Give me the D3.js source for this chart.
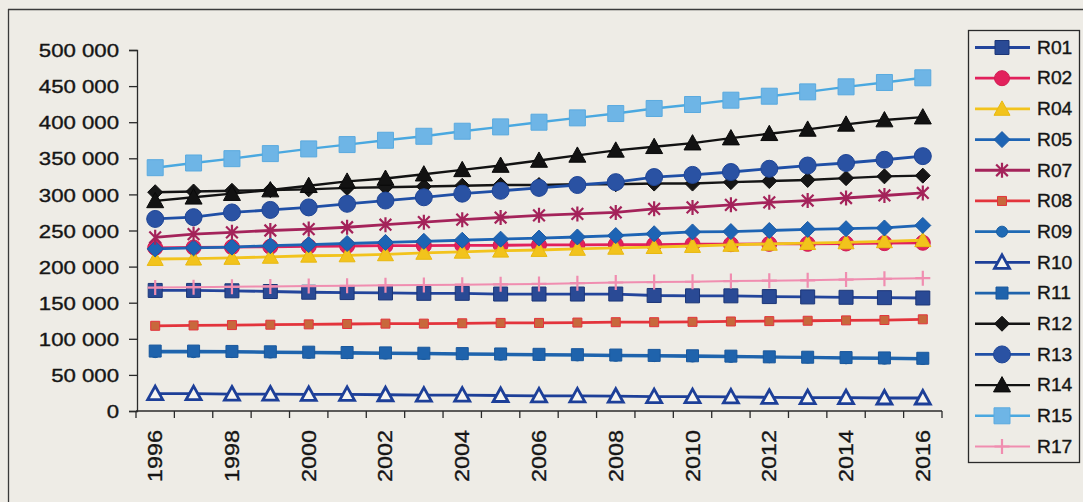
<!DOCTYPE html>
<html>
<head>
<meta charset="utf-8">
<script src="https://cdn.jsdelivr.net/npm/d3@7"></script>
<style>
  html, body { margin: 0; padding: 0; background: #eeece6; }
  svg { display: block; }
  text { font-family: "Liberation Sans", Arial, sans-serif; fill: #151515; stroke: #151515; stroke-width: 0.35px; }
</style>
</head>
<body>
<svg id="chart" width="1083" height="502"></svg>
<script>
// ---- data ---------------------------------------------------------------
const years = ["1996","1997","1998","1999","2000","2001","2002","2003","2004","2005","2006",
               "2007","2008","2009","2010","2011","2012","2013","2014","2015","2016"];
const yearLabels = ["1996","1998","2000","2002","2004","2006","2008","2010","2012","2014","2016"];
const yTicks = [0, 50000, 100000, 150000, 200000, 250000, 300000, 350000, 400000, 450000, 500000];
const seriesNames = ["R01","R02","R04","R05","R07","R08","R09","R10","R11","R12","R13","R14","R15","R17"];

const r01 = [167000,167000,166500,165500,164500,164000,163500,163000,163000,162000,162000,162000,162000,160000,159500,159500,158500,158000,157500,157000,156500];
const r02 = [226000,226500,227000,227500,228000,228500,229000,229000,229500,229500,230000,230000,230500,230500,231000,231000,231500,231500,232000,232500,233000];
const r04 = [210500,211000,212000,213500,215000,215500,217000,219000,220500,222000,223000,224500,226000,227000,228500,230000,231500,232500,233500,235000,236500];
const r05 = [224500,226000,227000,229000,230500,232000,233500,235000,236500,238000,239500,241000,243000,245500,248000,248500,250000,251500,252500,253500,257000];
const r07 = [240500,245000,247500,250000,252000,254500,258000,261500,265000,268000,271000,273000,275000,280000,282000,285500,289000,291500,295000,298500,302000];
const r08 = [118000,118500,119000,119500,120000,120500,121000,121000,121500,122000,122000,122500,123000,123000,123500,124000,124500,125000,125500,126000,127000];
const r09 = [81500,81500,81500,81000,80500,80000,79500,79000,78500,78000,77500,77000,76500,76000,75500,75000,74500,74000,73000,72500,72000];
const r10 = [24000,24000,23500,23500,23000,23000,22500,22000,22000,21500,21000,21000,20500,20000,20000,19500,19000,18500,18500,18000,18000];
const r11 = [83000,83000,82500,82000,81500,81000,80500,80000,79500,79000,78500,78000,77500,77000,76500,76000,75000,74500,74000,73500,73000];
const r12 = [303000,304000,305000,306000,307000,309000,310000,311000,312000,313000,313000,314000,314000,315000,315000,317000,318500,320000,322500,325000,326000];
const r13 = [266000,268500,275000,278500,282000,287000,291500,296000,301000,305000,309000,313000,317000,324000,327000,331000,335500,340000,343500,348000,353000];
const r14 = [291000,296000,301000,306000,312000,318000,322000,328000,334000,340000,347000,354000,361000,366000,371000,378000,384000,390000,397000,403000,407000];
const r15 = [337000,343500,349500,356500,363000,369000,375000,380500,387500,393500,400000,406000,412000,419000,424500,430500,436000,442000,449000,455000,461500];
const r17 = [171000,171500,172000,172500,173000,173500,174000,174500,175000,175500,176000,177000,178000,178500,179000,180000,180500,181000,182000,183000,184000];

const seriesValues = [r01, r02, r04, r05, r07, r08, r09, r10, r11, r12, r13, r14, r15, r17];

// ---- appearance of each series -----------------------------------------
const styles = {
  R01: { line: "#23459b", width: 2.8, marker: "square",   size: 14, fill: "#2a4a95", stroke: "#1c3678" },
  R02: { line: "#e2215c", width: 2.8, marker: "circle",   size: 15, fill: "#e2215c", stroke: "#d01c52" },
  R04: { line: "#f2c31c", width: 2.8, marker: "triangle", size: 16, fill: "#f2c31c", stroke: "#e8b810" },
  R05: { line: "#1e64b4", width: 2.8, marker: "diamond",  size: 16, fill: "#1e64b4", stroke: "#1a5aa4" },
  R07: { line: "#a4235a", width: 2.8, marker: "asterisk", size: 15, fill: "none",    stroke: "#a4235a" },
  R08: { line: "#e3343c", width: 2.8, marker: "square",   size: 9,  fill: "#c8683c", stroke: "#e3343c" },
  R09: { line: "#1f6ab4", width: 2.8, marker: "circle",   size: 11, fill: "#1f6ab4", stroke: "#1a5ea2" },
  R10: { line: "#1d3f98", width: 2.8, marker: "triangle", size: 15, fill: "#f6f5f1", stroke: "#1d3f98" },
  R11: { line: "#1f63ac", width: 2.8, marker: "square",   size: 12, fill: "#1f63ac", stroke: "#1a589c" },
  R12: { line: "#151515", width: 2.4, marker: "diamond",  size: 15, fill: "#161616", stroke: "#0e0e0e" },
  R13: { line: "#1f4fa6", width: 2.8, marker: "circle",   size: 17, fill: "#2a52a3", stroke: "#1f4596" },
  R14: { line: "#121212", width: 2.4, marker: "triangle", size: 17, fill: "#121212", stroke: "#0a0a0a" },
  R15: { line: "#4aa8e0", width: 2.4, marker: "square",   size: 16, fill: "#6eb5e6", stroke: "#5aaadf" },
  R17: { line: "#f08db0", width: 2,   marker: "plus",     size: 15, fill: "none",    stroke: "#f08db0" }
};

// marker outlines centred on (0,0)
function markerPath(kind, s) {
  const h = s / 2;
  switch (kind) {
    case "square":   return d3.symbol(d3.symbolSquare, s * s)();
    case "circle":   return d3.symbol(d3.symbolCircle, Math.PI * h * h)();
    case "triangle": return `M0,${-h}L${h},${h * 0.8}L${-h},${h * 0.8}Z`;
    case "diamond":  return `M0,${-h}L${h},0L0,${h}L${-h},0Z`;
    case "asterisk": {
      const d = h * 0.78;
      return `M0,${-h}V${h}M${-d},${-d}L${d},${d}M${-d},${d}L${d},${-d}`;
    }
    case "plus":     return `M0,${-h}V${h}M${-h},0H${h}`;
  }
}

function drawMarker(sel, st) {
  const open = st.marker === "asterisk" || st.marker === "plus";
  sel.append("path")
    .attr("d", markerPath(st.marker, st.size))
    .attr("fill", open ? "none" : st.fill)
    .attr("stroke", st.stroke)
    .attr("stroke-width", open ? 2.2 : (st.fill === "#f6f5f1" ? 2.8 : 1))
    .attr("stroke-linejoin", "miter");
}

// ---- layout --------------------------------------------------------------
const svg = d3.select("#chart");

// page frame
svg.append("line").attr("x1", 8).attr("x2", 1083).attr("y1", 9.5).attr("y2", 9.5)
  .attr("stroke", "#3a3a3a").attr("stroke-width", 1.3);
svg.append("line").attr("x1", 8.5).attr("x2", 8.5).attr("y1", 9).attr("y2", 502)
  .attr("stroke", "#3a3a3a").attr("stroke-width", 1.3);

const x = d3.scaleBand().domain(years).range([136, 942]).padding(0);
const cx = d => x(d) + x.bandwidth() / 2;
const y = d3.scaleLinear().domain([0, 500000]).range([411, 50]);

// y axis
const fmt = v => d3.format(",")(v).replace(/,/g, " ");
const yAxis = svg.append("g")
  .attr("transform", "translate(137,0)")
  .call(d3.axisLeft(y).tickValues(yTicks).tickSize(8).tickFormat(fmt));
yAxis.select(".domain").attr("stroke", "#2a2a2a").attr("stroke-width", 1.3);
yAxis.selectAll(".tick line").attr("stroke", "#2a2a2a").attr("stroke-width", 1.3);
yAxis.selectAll(".tick text")
  .attr("x", -18 / 1.2)
  .attr("dy", "0.36em")
  .attr("transform", "scale(1.2,1)")
  .style("font-size", "18.5px")
  .style("font-family", "'Liberation Sans', Arial, sans-serif")
  .attr("fill", "#151515");

// x axis: line, ticks between categories, rotated year labels
const xAxis = svg.append("g");
xAxis.append("line")
  .attr("x1", x.range()[0]).attr("x2", x.range()[1])
  .attr("y1", y(0)).attr("y2", y(0))
  .attr("stroke", "#2a2a2a").attr("stroke-width", 1.3);
const bounds = years.map(d => x(d)).concat([x.range()[1]]);
xAxis.selectAll("line.tick").data(bounds).join("line")
  .attr("class", "tick")
  .attr("x1", d => d).attr("x2", d => d)
  .attr("y1", y(0)).attr("y2", y(0) + 7)
  .attr("stroke", "#2a2a2a").attr("stroke-width", 1.3);
xAxis.selectAll("text").data(yearLabels).join("text")
  .attr("transform", d => `translate(${cx(d) + 7},430) rotate(-90) scale(1.17,1)`)
  .attr("text-anchor", "end")
  .style("font-size", "20px")
  .text(d => d);

// series
const line = d3.line().x((v, i) => cx(years[i])).y(v => y(v));
const plot = svg.append("g");
seriesNames.forEach((name, k) => {
  const st = styles[name];
  const vals = seriesValues[k];
  const g = plot.append("g");
  g.append("path")
    .attr("d", line(vals))
    .attr("fill", "none")
    .attr("stroke", st.line)
    .attr("stroke-width", st.width)
    .attr("stroke-linejoin", "round");
  vals.forEach((v, i) => {
    const m = g.append("g").attr("transform", `translate(${cx(years[i])},${y(v)})`);
    drawMarker(m, st);
  });
});

// legend
const legend = svg.append("g");
legend.append("rect")
  .attr("x", 968.5).attr("y", 30.5).attr("width", 111).attr("height", 432)
  .attr("fill", "none").attr("stroke", "#2a2a2a").attr("stroke-width", 1.3);
const ly = d3.scalePoint().domain(seriesNames).range([47.5, 446.5]);
seriesNames.forEach(name => {
  const st = styles[name];
  const row = legend.append("g").attr("transform", `translate(0,${ly(name)})`);
  row.append("line")
    .attr("x1", 975).attr("x2", 1030).attr("y1", 0).attr("y2", 0)
    .attr("stroke", st.line).attr("stroke-width", st.width);
  const m = row.append("g").attr("transform", "translate(1002,0)");
  drawMarker(m, st);
  row.append("text")
    .attr("transform", "translate(1037,0) scale(1.1,1)")
    .attr("dy", "0.36em")
    .style("font-size", "17.5px")
    .text(name);
});
</script>
</body>
</html>
